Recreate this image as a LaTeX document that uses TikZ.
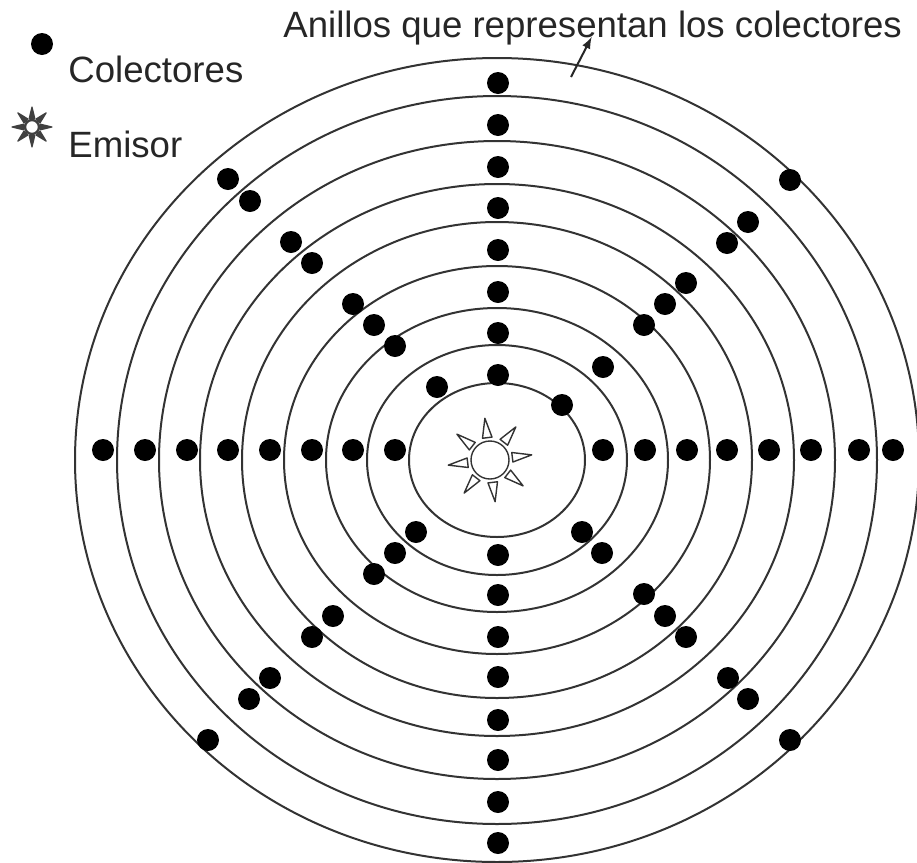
\documentclass[tikz,border=0pt]{standalone}
\usepackage{fontspec}
\setmainfont{Liberation Sans}
\usetikzlibrary{shapes}
\usetikzlibrary{arrows}
\usetikzlibrary{positioning}

\begin{document}
\begin{tikzpicture}[x=0.5pt,y=-0.5pt,
    anillo/.style={draw=black!80,line width=1pt},
    colector/.style={circle,fill=black,inner sep=0pt,minimum size=11pt},
    rayo/.style={draw=black!80,fill=white,line width=0.7pt,line join=round},
    rayito/.style={draw=black!75,fill=black!75,line width=0.6pt,line join=round},
    texto/.style={inner sep=0pt,anchor=base west,text=black!85,font=\fontsize{18.3pt}{20pt}\selectfont}]
  \useasboundingbox (0,0) rectangle (917,863);
  \coordinate (centro) at (497,460);
  \foreach \rx/\ry in {88/77,130/115,171/152,213/194,255/238,297/276,338/319,380/364,422/402}
    \draw[anillo] (centro) ellipse [x radius=\rx, y radius=\ry];
  \foreach \x [count=\i] in {103,145,187,228,270,312,353,395,603,645,687,727,769,811,859,893}
    \node[colector] (h\i) at (\x,450) {};
  \foreach \y [count=\i] in {83,125,167,208,250,292,333,375,555,595,637,677,720,760,802,843}
    \node[colector] (v\i) at (498,\y) {};
  \foreach \x/\y [count=\i] in {228/179,250/201,291/242,312/263,353/304,374/325,395/346,437/387}
    \node[colector] (si\i) at (\x,\y) {};
  \foreach \x/\y [count=\i] in {790/180,748/222,727/243,686/283,665/304,644/325,603/367,562/405}
    \node[colector] (sd\i) at (\x,\y) {};
  \foreach \x/\y [count=\i] in {416/532,395/553,374/574,333/616,312/637,270/678,249/699,208/740}
    \node[colector] (ii\i) at (\x,\y) {};
  \foreach \x/\y [count=\i] in {582/532,602/553,644/594,665/616,686/637,728/678,748/699,790/740}
    \node[colector] (id\i) at (\x,\y) {};
  \node[circle,draw=black!80,line width=0.7pt,minimum size=19pt,inner sep=0pt] (sol) at (490,460) {};
  \foreach \a in {-7,38,83,128,173,218,263,308}
    \draw[rayo] ([shift={(\a-12:23)}]sol.center) -- ([shift={(\a:42)}]sol.center)
      -- ([shift={(\a+12:23)}]sol.center) -- cycle;
  \node[colector] (leyenda1) at (42,44) {};
  \node[texto] (colectores) at (68,82) {Colectores};
  \node[circle,draw=black!75,line width=1.2pt,minimum size=7pt,inner sep=0pt] (leyenda2) at (32,127) {};
  \foreach \a in {0,45,...,315}
    \draw[rayito] ([shift={(\a-18:9)}]leyenda2.center) -- ([shift={(\a:20)}]leyenda2.center)
      -- ([shift={(\a+18:9)}]leyenda2.center) -- cycle;
  \node[texto] (emisor) at (68,157) {Emisor};
  \node[texto] (titulo) at (283,37) {Anillos que representan los colectores};
  \coordinate (flecha) at (571,77);
  \draw[-latex,black!85,line width=1pt] (flecha) -- ([xshift=-0.5pt]titulo.base);
\end{tikzpicture}
\end{document}
